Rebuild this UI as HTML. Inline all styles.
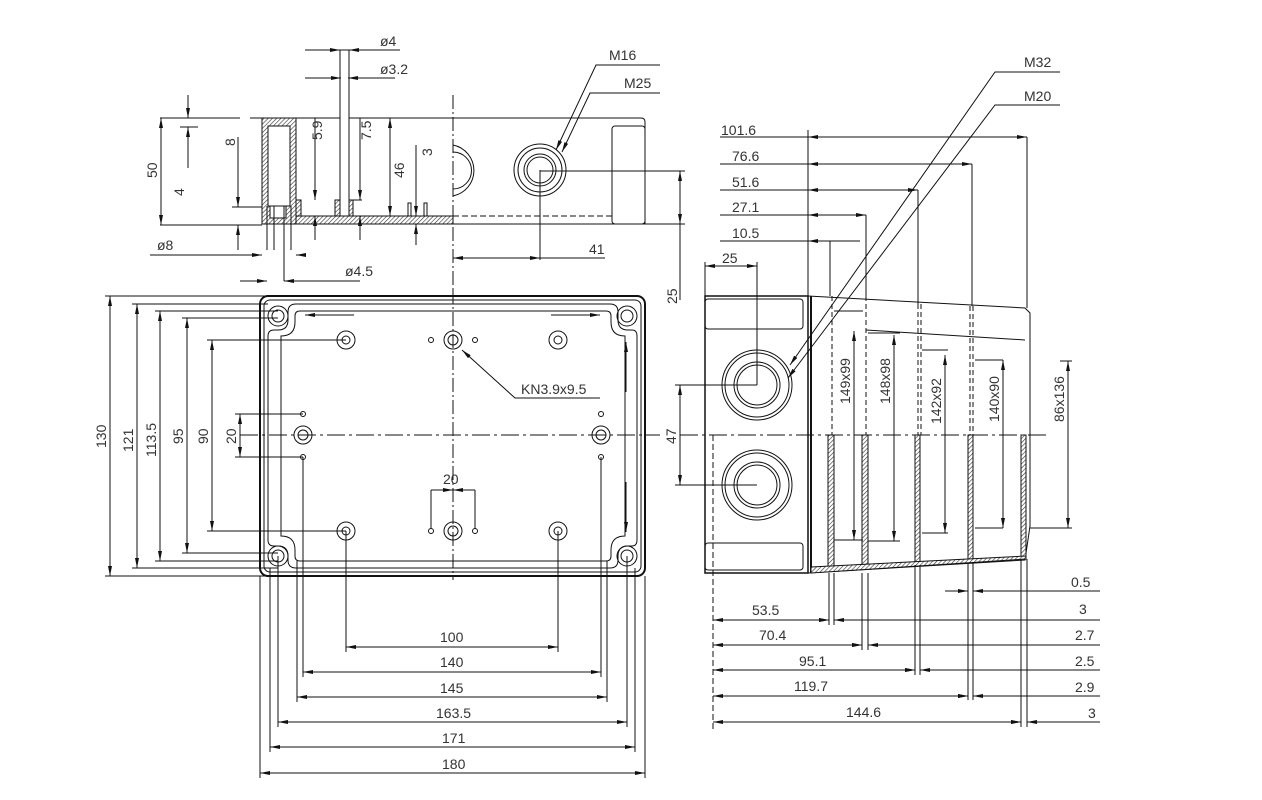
<!DOCTYPE html>
<html><head><meta charset="utf-8"><style>
html,body{margin:0;padding:0;background:#fff}
svg text{font-family:"Liberation Sans",sans-serif;font-size:14px;fill:#333}
</style></head><body>
<svg width="1262" height="795" viewBox="0 0 1262 795" xmlns="http://www.w3.org/2000/svg">
<defs>
<marker id="a" viewBox="0 0 10 4" refX="10" refY="2" markerWidth="10" markerHeight="4" markerUnits="userSpaceOnUse" orient="auto-start-reverse"><path d="M0,0L10,2L0,4z" fill="#111"/></marker>
<pattern id="h" width="3" height="3" patternUnits="userSpaceOnUse" patternTransform="rotate(45)"><rect width="3" height="3" fill="#fff"/><line x1="0" y1="0" x2="0" y2="3" stroke="#333" stroke-width="1.2"/></pattern>
</defs>
<g stroke="#111" stroke-width="1" fill="none">
<line x1="453" y1="95" x2="453" y2="290" stroke-dasharray="14,3,2,3"/>
<line x1="160" y1="118" x2="240" y2="118"/>
<line x1="160" y1="225" x2="262" y2="225"/>
<line x1="161" y1="118" x2="161" y2="225" marker-start="url(#a)" marker-end="url(#a)"/>
<line x1="188" y1="95" x2="188" y2="118" marker-end="url(#a)"/>
<line x1="188" y1="127" x2="188" y2="168" marker-start="url(#a)"/>
<line x1="180" y1="127" x2="198" y2="127"/>
<line x1="238" y1="137" x2="238" y2="207" marker-end="url(#a)"/>
<line x1="238" y1="225" x2="238" y2="250" marker-start="url(#a)"/>
<line x1="232" y1="207" x2="262" y2="207"/>
<line x1="250" y1="118" x2="453" y2="118"/>
<rect x="262" y="118" width="34" height="106" fill="url(#h)"/>
<rect x="268" y="126" width="22" height="80" fill="#fff"/>
<rect x="270" y="206" width="16" height="12" fill="#fff"/>
<line x1="267" y1="206" x2="267" y2="250"/><line x1="274" y1="206" x2="274" y2="250"/>
<line x1="284" y1="206" x2="284" y2="281"/><line x1="291" y1="206" x2="291" y2="250"/>
<rect x="296" y="216" width="157" height="8" fill="url(#h)"/>
<rect x="296" y="200" width="5" height="16" fill="url(#h)"/>
<rect x="335" y="200" width="18" height="16" fill="url(#h)"/>
<rect x="340" y="50" width="9" height="166" fill="#fff"/>
<line x1="305" y1="50" x2="340" y2="50" marker-end="url(#a)"/><line x1="349" y1="50" x2="382" y2="50" marker-start="url(#a)"/>
<line x1="382" y1="50" x2="400" y2="50"/>
<line x1="305" y1="78" x2="341" y2="78" marker-end="url(#a)"/><line x1="348" y1="78" x2="395" y2="78" marker-start="url(#a)"/>
<line x1="315" y1="118" x2="315" y2="200" marker-end="url(#a)"/><line x1="315" y1="216" x2="315" y2="240" marker-start="url(#a)"/>
<line x1="360" y1="118" x2="360" y2="200" marker-end="url(#a)"/><line x1="360" y1="216" x2="360" y2="240" marker-start="url(#a)"/>
<line x1="353" y1="200" x2="362" y2="200"/>
<line x1="390" y1="118" x2="390" y2="216" marker-start="url(#a)" marker-end="url(#a)"/>
<line x1="416" y1="145" x2="416" y2="216" marker-end="url(#a)"/><line x1="416" y1="224" x2="416" y2="245" marker-start="url(#a)"/>
<rect x="408" y="203" width="3" height="13"/><rect x="424" y="203" width="3" height="13"/>
<line x1="150" y1="255" x2="262" y2="255" marker-end="url(#a)"/><line x1="296" y1="255" x2="300" y2="255" marker-start="url(#a)"/>
<line x1="240" y1="281" x2="267" y2="281" marker-end="url(#a)"/><line x1="284" y1="281" x2="360" y2="281" marker-start="url(#a)"/>
<path d="M453,118 H641 Q645,118 645,122 V224 H453"/>
<rect x="612" y="126" width="33" height="98" rx="3"/>
<line x1="453" y1="216" x2="612" y2="216" stroke-dasharray="6,3"/>
<path d="M453,145 A26,26 0 0 1 453,196"/><path d="M453,152 A18,18 0 0 1 453,189"/>
<circle cx="540" cy="170" r="26"/><circle cx="540" cy="170" r="22"/><circle cx="540" cy="170" r="16"/><circle cx="540" cy="170" r="13"/>
<line x1="540" y1="170" x2="540" y2="260"/>
<line x1="540" y1="171" x2="685" y2="171"/>
<line x1="453" y1="258" x2="540" y2="258" marker-start="url(#a)" marker-end="url(#a)"/>
<line x1="540" y1="258" x2="605" y2="258"/>
<line x1="680" y1="171" x2="680" y2="224" marker-start="url(#a)" marker-end="url(#a)"/>
<line x1="680" y1="224" x2="680" y2="300"/>
<line x1="645" y1="224" x2="685" y2="224"/>
<polyline points="660,65 596,65 556,150" marker-end="url(#a)"/>
<polyline points="660,93 590,93 562,152" marker-end="url(#a)"/>
<line x1="240" y1="435" x2="660" y2="435" stroke-dasharray="18,4,3,4"/>
<line x1="453" y1="290" x2="453" y2="580" stroke-dasharray="14,3,2,3"/>
<rect x="260" y="296" width="385" height="280" rx="8" stroke-width="2"/>
<rect x="264" y="300" width="377" height="272" rx="6"/>
<path d="M296,304 H610 Q618,304 618,312 V320 Q618,330 628,330 H632 Q637,330 637,336 V540 Q637,546 632,546 H628 Q618,546 618,556 V560 Q618,568 610,568 H296 Q288,568 288,560 V556 Q288,546 278,546 H274 Q268,546 268,540 V336 Q268,330 274,330 H278 Q288,330 288,320 V312 Q288,304 296,304 Z"/>
<path d="M300,311 H606 Q611,311 611,316 V322 Q611,336 625,336 V536 Q611,536 611,550 V556 Q611,561 606,561 H300 Q295,561 295,556 V550 Q295,536 281,536 V336 Q295,336 295,322 V316 Q295,311 300,311 Z"/>
<g>
<circle cx="278" cy="316" r="10"/><circle cx="278" cy="316" r="6"/>
<circle cx="627" cy="316" r="10"/><circle cx="627" cy="316" r="6"/>
<circle cx="278" cy="556" r="10"/><circle cx="278" cy="556" r="6"/>
<circle cx="627" cy="556" r="10"/><circle cx="627" cy="556" r="6"/>
<circle cx="346" cy="340" r="9"/><circle cx="346" cy="340" r="4"/>
<circle cx="558" cy="340" r="9"/><circle cx="558" cy="340" r="4"/>
<circle cx="346" cy="531" r="9"/><circle cx="346" cy="531" r="4"/>
<circle cx="558" cy="531" r="9"/><circle cx="558" cy="531" r="4"/>
<circle cx="453" cy="340" r="9"/><circle cx="453" cy="340" r="5"/>
<circle cx="453" cy="531" r="9"/><circle cx="453" cy="531" r="5"/>
<circle cx="303" cy="435" r="9"/><circle cx="303" cy="435" r="5"/>
<circle cx="601" cy="435" r="9"/><circle cx="601" cy="435" r="5"/>
<circle cx="431" cy="340" r="2.5"/><circle cx="475" cy="340" r="2.5"/>
<circle cx="431" cy="531" r="2.5"/><circle cx="475" cy="531" r="2.5"/>
<circle cx="303" cy="414" r="2.5"/><circle cx="303" cy="457" r="2.5"/>
<circle cx="601" cy="414" r="2.5"/><circle cx="601" cy="457" r="2.5"/>
</g>
<line x1="305" y1="315" x2="354" y2="315" marker-start="url(#a)"/>
<line x1="551" y1="315" x2="600" y2="315" marker-end="url(#a)"/>
<line x1="626" y1="342" x2="626" y2="392" marker-start="url(#a)"/>
<line x1="626" y1="482" x2="626" y2="532" marker-end="url(#a)"/>
<polyline points="600,398 515,398 462,350" marker-end="url(#a)"/>
<line x1="431" y1="490" x2="453" y2="490" marker-end="url(#a)"/><line x1="453" y1="490" x2="475" y2="490" marker-start="url(#a)"/>
<line x1="431" y1="490" x2="431" y2="529"/><line x1="475" y1="490" x2="475" y2="529"/>
<line x1="105" y1="296" x2="268" y2="296"/><line x1="105" y1="576" x2="268" y2="576"/>
<line x1="110" y1="296" x2="110" y2="576" marker-start="url(#a)" marker-end="url(#a)"/>
<line x1="132" y1="304" x2="268" y2="304"/><line x1="132" y1="568" x2="278" y2="568"/>
<line x1="137" y1="304" x2="137" y2="568" marker-start="url(#a)" marker-end="url(#a)"/>
<line x1="155" y1="311" x2="278" y2="311"/><line x1="155" y1="561" x2="278" y2="561"/>
<line x1="160" y1="311" x2="160" y2="561" marker-start="url(#a)" marker-end="url(#a)"/>
<line x1="182" y1="318" x2="278" y2="318"/><line x1="182" y1="553" x2="278" y2="553"/>
<line x1="187" y1="318" x2="187" y2="553" marker-start="url(#a)" marker-end="url(#a)"/>
<line x1="207" y1="340" x2="346" y2="340"/><line x1="207" y1="531" x2="346" y2="531"/>
<line x1="212" y1="340" x2="212" y2="531" marker-start="url(#a)" marker-end="url(#a)"/>
<line x1="235" y1="414" x2="303" y2="414"/><line x1="235" y1="457" x2="303" y2="457"/>
<line x1="240" y1="414" x2="240" y2="457" marker-start="url(#a)" marker-end="url(#a)"/>
<line x1="346" y1="531" x2="346" y2="652"/><line x1="558" y1="531" x2="558" y2="652"/>
<line x1="346" y1="647" x2="558" y2="647" marker-start="url(#a)" marker-end="url(#a)"/>
<line x1="303" y1="457" x2="303" y2="677"/><line x1="601" y1="457" x2="601" y2="677"/>
<line x1="303" y1="672" x2="601" y2="672" marker-start="url(#a)" marker-end="url(#a)"/>
<line x1="297" y1="561" x2="297" y2="702"/><line x1="607" y1="561" x2="607" y2="702"/>
<line x1="297" y1="697" x2="607" y2="697" marker-start="url(#a)" marker-end="url(#a)"/>
<line x1="278" y1="556" x2="278" y2="727"/><line x1="627" y1="556" x2="627" y2="727"/>
<line x1="278" y1="722" x2="627" y2="722" marker-start="url(#a)" marker-end="url(#a)"/>
<line x1="270" y1="568" x2="270" y2="752"/><line x1="635" y1="568" x2="635" y2="752"/>
<line x1="270" y1="747" x2="635" y2="747" marker-start="url(#a)" marker-end="url(#a)"/>
<line x1="260" y1="576" x2="260" y2="778"/><line x1="645" y1="576" x2="645" y2="778"/>
<line x1="260" y1="773" x2="645" y2="773" marker-start="url(#a)" marker-end="url(#a)"/>
<line x1="680" y1="435" x2="1050" y2="435" stroke-dasharray="18,4,3,4"/>
<rect x="705" y="296" width="103" height="277" stroke-width="1.5"/>
<rect x="705" y="299" width="98" height="30" rx="3"/>
<rect x="705" y="543" width="98" height="27" rx="3"/>
<line x1="713" y1="435" x2="713" y2="730" stroke-dasharray="6,3"/>
<circle cx="757" cy="385" r="35"/><circle cx="757" cy="385" r="32"/><circle cx="757" cy="385" r="23"/><circle cx="757" cy="385" r="20"/>
<circle cx="757" cy="485" r="35"/><circle cx="757" cy="485" r="32"/><circle cx="757" cy="485" r="23"/><circle cx="757" cy="485" r="20"/>
<line x1="757" y1="262" x2="757" y2="385"/>
<line x1="675" y1="385" x2="757" y2="385"/><line x1="675" y1="485" x2="757" y2="485"/>
<line x1="680" y1="385" x2="680" y2="485" marker-start="url(#a)" marker-end="url(#a)"/>
<line x1="705" y1="266" x2="757" y2="266" marker-start="url(#a)" marker-end="url(#a)"/>
<line x1="705" y1="262" x2="705" y2="296"/>
<path d="M808,296 L1025,308 L1030,313 V526 L1025,560 L808,573"/>
<path d="M866,330 L1025,340"/>
<line x1="811" y1="296" x2="811" y2="573" stroke-width="2"/>
<line x1="832" y1="296" x2="832" y2="435" stroke-dasharray="5,3"/>
<line x1="866" y1="296" x2="866" y2="435" stroke-dasharray="5,3"/>
<line x1="918" y1="304" x2="918" y2="435" stroke-dasharray="5,3"/><line x1="921" y1="304" x2="921" y2="435" stroke-dasharray="5,3"/>
<line x1="970" y1="306" x2="970" y2="435" stroke-dasharray="5,3"/><line x1="973" y1="306" x2="973" y2="435" stroke-dasharray="5,3"/>
<rect x="828" y="435" width="6" height="135" fill="url(#h)"/>
<rect x="862" y="435" width="6" height="134" fill="url(#h)"/>
<rect x="915" y="435" width="5" height="130" fill="url(#h)"/>
<rect x="968" y="435" width="5" height="128" fill="url(#h)"/>
<rect x="1021" y="435" width="5" height="124" fill="url(#h)"/>
<path d="M811,567 L1026,556 L1026,559 L811,573 Z" fill="url(#h)"/>
<line x1="720" y1="137" x2="808" y2="137"/><line x1="808" y1="137" x2="1027" y2="137" marker-start="url(#a)" marker-end="url(#a)"/>
<line x1="720" y1="164" x2="808" y2="164"/><line x1="808" y1="164" x2="972" y2="164" marker-start="url(#a)" marker-end="url(#a)"/>
<line x1="720" y1="190" x2="808" y2="190"/><line x1="808" y1="190" x2="918" y2="190" marker-start="url(#a)" marker-end="url(#a)"/>
<line x1="720" y1="215" x2="808" y2="215"/><line x1="808" y1="215" x2="866" y2="215" marker-start="url(#a)" marker-end="url(#a)"/>
<line x1="720" y1="241" x2="808" y2="241"/><line x1="808" y1="241" x2="860" y2="241" marker-start="url(#a)"/><line x1="830" y1="241" x2="830" y2="296"/>
<line x1="808" y1="130" x2="808" y2="296"/>
<line x1="1027" y1="137" x2="1027" y2="308"/><line x1="972" y1="164" x2="972" y2="306"/>
<line x1="918" y1="190" x2="918" y2="304"/><line x1="866" y1="215" x2="866" y2="296"/>
<line x1="834" y1="311" x2="863" y2="311"/><line x1="834" y1="540" x2="863" y2="540"/>
<line x1="854" y1="331" x2="854" y2="540" marker-start="url(#a)" marker-end="url(#a)"/>
<line x1="868" y1="333" x2="900" y2="333"/><line x1="868" y1="541" x2="900" y2="541"/>
<line x1="894" y1="335" x2="894" y2="541" marker-start="url(#a)" marker-end="url(#a)"/>
<line x1="922" y1="350" x2="948" y2="350"/><line x1="922" y1="533" x2="948" y2="533"/>
<line x1="945" y1="355" x2="945" y2="533" marker-start="url(#a)" marker-end="url(#a)"/>
<line x1="975" y1="360" x2="1003" y2="360"/><line x1="975" y1="528" x2="1003" y2="528"/>
<line x1="1003" y1="360" x2="1003" y2="528" marker-start="url(#a)" marker-end="url(#a)"/>
<line x1="1030" y1="528" x2="1072" y2="528"/><line x1="1060" y1="361" x2="1072" y2="361"/>
<line x1="1068" y1="361" x2="1068" y2="528" marker-start="url(#a)" marker-end="url(#a)"/>
<line x1="829" y1="573" x2="829" y2="625"/><line x1="834" y1="573" x2="834" y2="625"/>
<line x1="862" y1="573" x2="862" y2="650"/><line x1="868" y1="573" x2="868" y2="650"/>
<line x1="915" y1="565" x2="915" y2="675"/><line x1="920" y1="565" x2="920" y2="675"/>
<line x1="968" y1="563" x2="968" y2="700"/><line x1="973" y1="563" x2="973" y2="700"/>
<line x1="1021" y1="559" x2="1021" y2="727"/><line x1="1027" y1="559" x2="1027" y2="727"/>
<line x1="713" y1="620" x2="829" y2="620" marker-start="url(#a)" marker-end="url(#a)"/>
<line x1="713" y1="645" x2="862" y2="645" marker-start="url(#a)" marker-end="url(#a)"/>
<line x1="713" y1="670" x2="915" y2="670" marker-start="url(#a)" marker-end="url(#a)"/>
<line x1="713" y1="696" x2="968" y2="696" marker-start="url(#a)" marker-end="url(#a)"/>
<line x1="713" y1="722" x2="1021" y2="722" marker-start="url(#a)" marker-end="url(#a)"/>
<line x1="945" y1="591" x2="968" y2="591" marker-end="url(#a)"/><line x1="973" y1="591" x2="1100" y2="591" marker-start="url(#a)"/>
<line x1="810" y1="620" x2="829" y2="620" marker-end="url(#a)"/><line x1="834" y1="620" x2="1100" y2="620" marker-start="url(#a)"/>
<line x1="845" y1="645" x2="862" y2="645" marker-end="url(#a)"/><line x1="868" y1="645" x2="1100" y2="645" marker-start="url(#a)"/>
<line x1="898" y1="670" x2="915" y2="670" marker-end="url(#a)"/><line x1="920" y1="670" x2="1100" y2="670" marker-start="url(#a)"/>
<line x1="950" y1="696" x2="968" y2="696" marker-end="url(#a)"/><line x1="973" y1="696" x2="1100" y2="696" marker-start="url(#a)"/>
<line x1="1005" y1="722" x2="1021" y2="722" marker-end="url(#a)"/><line x1="1027" y1="722" x2="1100" y2="722" marker-start="url(#a)"/>
<polyline points="1060,72 995,72 790,365" marker-end="url(#a)"/>
<polyline points="1060,105 995,105 788,378" marker-end="url(#a)"/>
</g>
<g>
<text x="380" y="46">ø4</text><text x="380" y="74">ø3.2</text>
<text x="157" y="250">ø8</text><text x="345" y="276">ø4.5</text>
<text x="609" y="60">M16</text><text x="624" y="88">M25</text>
<text x="589" y="254">41</text>
<text transform="translate(157,178) rotate(-90)">50</text>
<text transform="translate(184,196) rotate(-90)">4</text>
<text transform="translate(235,146) rotate(-90)">8</text>
<text transform="translate(322,140) rotate(-90)">5.9</text>
<text transform="translate(371,140) rotate(-90)">7.5</text>
<text transform="translate(404,178) rotate(-90)">46</text>
<text transform="translate(432,156) rotate(-90)">3</text>
<text transform="translate(677,304) rotate(-90)">25</text>
<text transform="translate(106,448) rotate(-90)">130</text>
<text transform="translate(133,452) rotate(-90)">121</text>
<text transform="translate(156,457) rotate(-90)">113.5</text>
<text transform="translate(183,444) rotate(-90)">95</text>
<text transform="translate(208,444) rotate(-90)">90</text>
<text transform="translate(236,444) rotate(-90)">20</text>
<text x="443" y="484">20</text>
<text x="521" y="394">KN3.9x9.5</text>
<text x="440" y="642">100</text><text x="440" y="667">140</text><text x="440" y="693">145</text>
<text x="436" y="718">163.5</text><text x="442" y="743">171</text><text x="442" y="769">180</text>
<text x="1024" y="67">M32</text><text x="1024" y="101">M20</text>
<text x="721" y="135">101.6</text><text x="732" y="161">76.6</text><text x="732" y="187">51.6</text>
<text x="732" y="212">27.1</text><text x="732" y="238">10.5</text><text x="722" y="263">25</text>
<text transform="translate(676,444) rotate(-90)">47</text>
<text transform="translate(850,404) rotate(-90)">149x99</text>
<text transform="translate(890,404) rotate(-90)">148x98</text>
<text transform="translate(941,424) rotate(-90)">142x92</text>
<text transform="translate(999,422) rotate(-90)">140x90</text>
<text transform="translate(1064,422) rotate(-90)">86x136</text>
<text x="752" y="615">53.5</text><text x="759" y="640">70.4</text><text x="799" y="666">95.1</text>
<text x="794" y="691">119.7</text><text x="846" y="717">144.6</text>
<text x="1071" y="587">0.5</text><text x="1079" y="614">3</text><text x="1075" y="640">2.7</text>
<text x="1075" y="666">2.5</text><text x="1075" y="692">2.9</text><text x="1088" y="718">3</text>
</g>
</svg>
</body></html>
